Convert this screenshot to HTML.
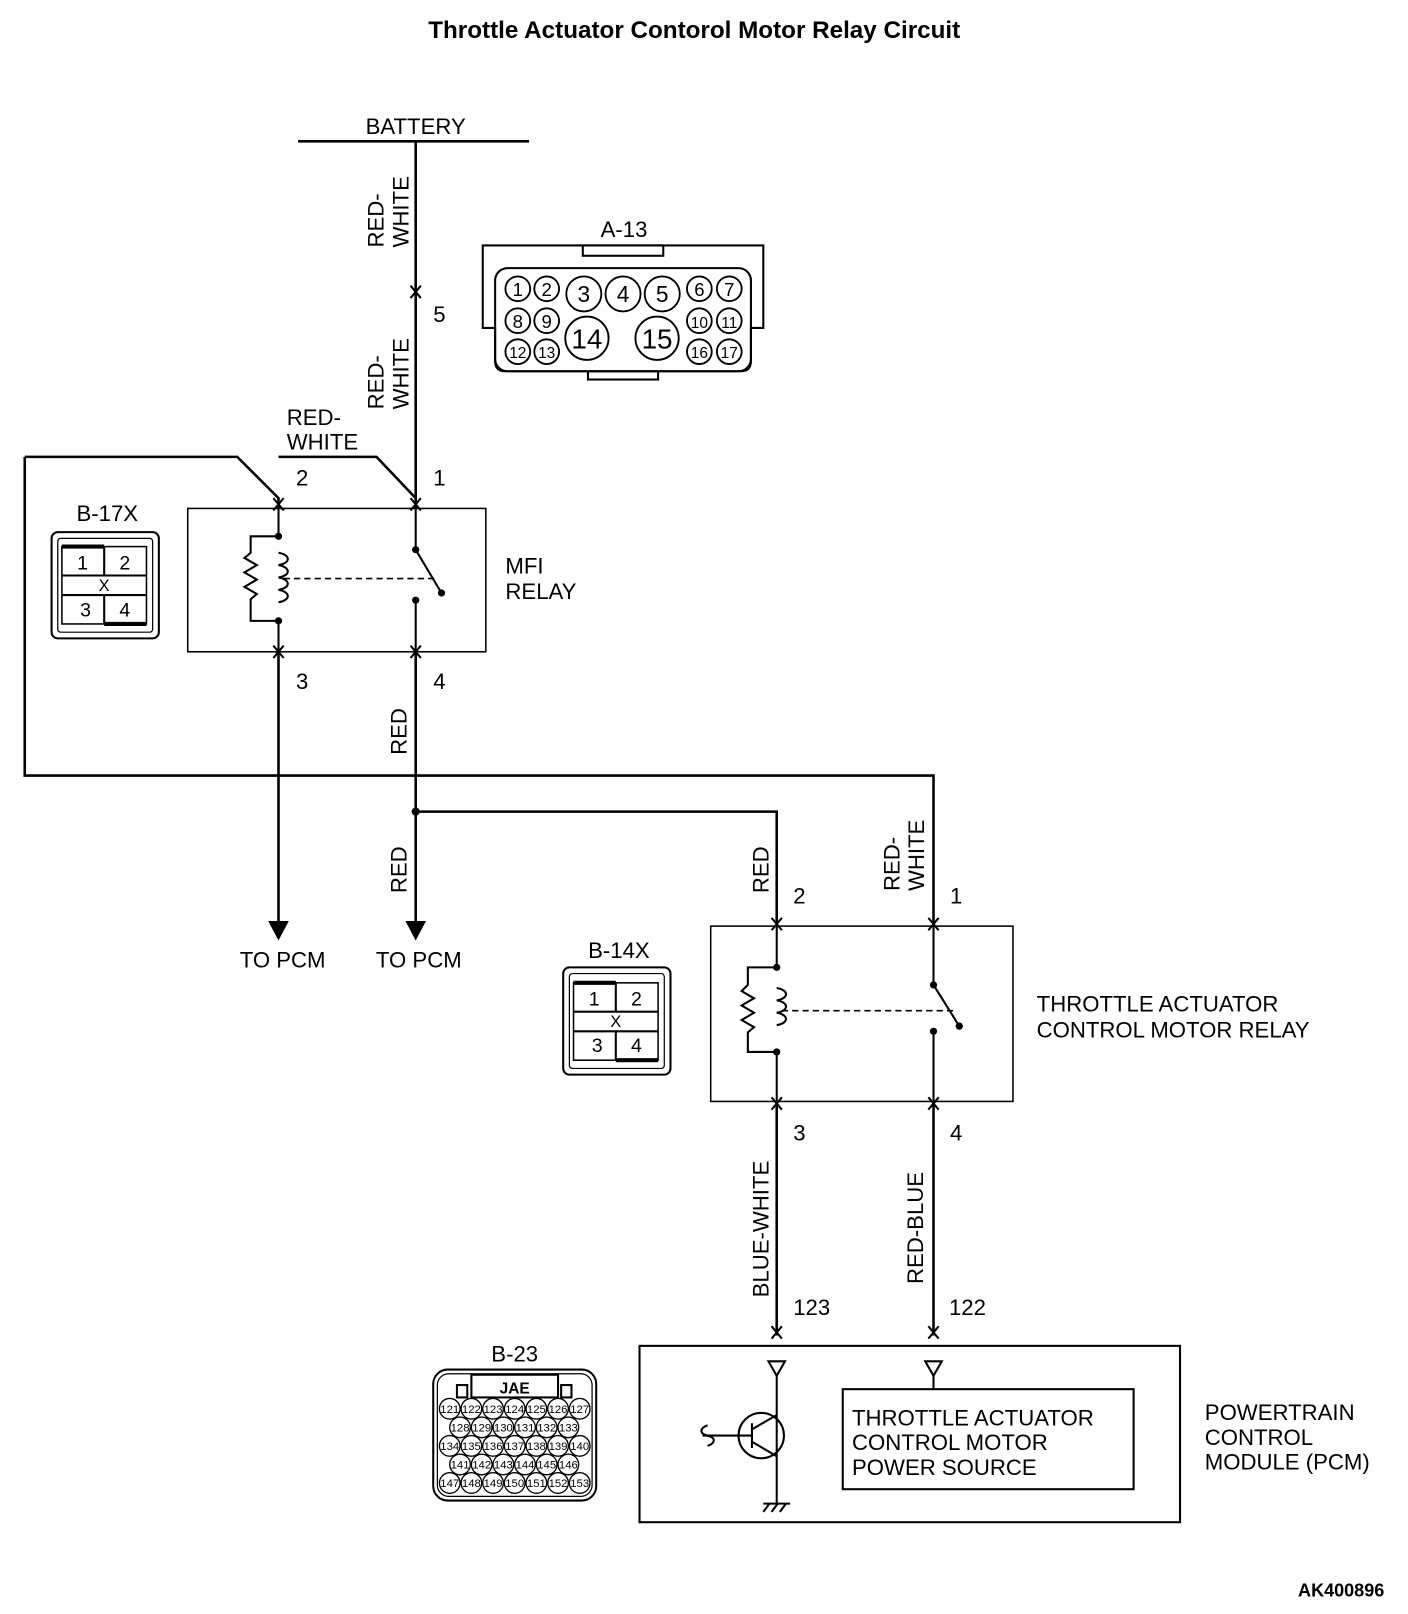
<!DOCTYPE html>
<html><head><meta charset="utf-8"><style>
html,body{margin:0;padding:0;background:#fff}
svg{display:block}
text{font-family:"Liberation Sans",sans-serif;fill:#000}
</style></head><body>
<svg width="1408" height="1614" viewBox="0 0 1365 1565" preserveAspectRatio="none" xmlns="http://www.w3.org/2000/svg">
<defs>
<g id="chev"><polyline points="-5,-6 0,0 5,-6" fill="none" stroke="#000" stroke-width="2"/><polyline points="-5,6 0,0 5,6" fill="none" stroke="#000" stroke-width="2"/></g>
</defs>
<text x="673" y="37" font-size="23.5" font-weight="bold" text-anchor="middle">Throttle Actuator Contorol Motor Relay Circuit</text>
<g stroke="#000" stroke-width="2.5" fill="none">
<line x1="289" y1="137" x2="513" y2="137"/>
<line x1="403" y1="137" x2="403" y2="493"/>
<polyline points="24,443 230,443 270,483 270,493"/>
<polyline points="270,443 365,443 403,483"/>
<polyline points="24,443 24,752 905,752 905,898"/>
<rect x="182" y="493" width="289" height="139" stroke-width="1.5"/>
<line x1="270" y1="493" x2="270" y2="520" stroke-width="2"/>
<line x1="270" y1="602" x2="270" y2="632" stroke-width="2"/>
<line x1="403" y1="493" x2="403" y2="533" stroke-width="2"/>
<line x1="403" y1="582" x2="403" y2="632" stroke-width="2"/>
<line x1="270" y1="632" x2="270" y2="895"/>
<line x1="403" y1="632" x2="403" y2="895"/>
<polyline points="403,787 753,787 753,898"/>
<rect x="689" y="898" width="293" height="170" stroke-width="1.5"/>
<line x1="753" y1="898" x2="753" y2="938" stroke-width="2"/>
<line x1="753" y1="1020" x2="753" y2="1068" stroke-width="2"/>
<line x1="905" y1="898" x2="905" y2="955" stroke-width="2"/>
<line x1="905" y1="1000" x2="905" y2="1068" stroke-width="2"/>
<line x1="753" y1="1068" x2="753" y2="1295"/>
<line x1="905" y1="1068" x2="905" y2="1295"/>
<rect x="620" y="1305" width="524" height="171" stroke-width="2"/>
<rect x="817" y="1347" width="282" height="97" stroke-width="2"/>
</g>
<circle cx="403" cy="787" r="4"/>
<polygon points="260,893 280,893 270,912"/>
<polygon points="393,893 413,893 403,912"/>
<use href="#chev" x="403" y="283"/>
<use href="#chev" x="270" y="489"/><use href="#chev" x="403" y="489"/>
<use href="#chev" x="270" y="632"/><use href="#chev" x="403" y="632"/>
<use href="#chev" x="753" y="896"/><use href="#chev" x="905" y="896"/>
<use href="#chev" x="753" y="1070"/><use href="#chev" x="905" y="1070"/>
<use href="#chev" x="753" y="1292"/><use href="#chev" x="905" y="1292"/>
<g stroke="#000" stroke-width="2" fill="none">
<polyline points="270,520 243,520 243,536 237,541 249,548 237,555 249,562 237,569 249,576 243,581 243,602 270,602"/>
<path d="M270,536 c12,2 12,10 0,12 c12,2 12,10 0,12 c12,2 12,10 0,12 c12,2 12,10 0,12"/>
<line x1="403" y1="533" x2="428" y2="575"/>
<line x1="275" y1="561" x2="425" y2="561" stroke-dasharray="6,4" stroke-width="1.5"/>
<polyline points="753,938 725,938 725,955 719,961 731,968 719,975 731,982 719,989 731,996 725,1001 725,1020 753,1020"/>
<path d="M753,958 c12,2 12,10 0,12 c12,2 12,10 0,12 c12,2 12,10 0,12"/>
<line x1="905" y1="955" x2="930" y2="995"/>
<line x1="758" y1="980" x2="925" y2="980" stroke-dasharray="6,4" stroke-width="1.5"/>
</g>
<g><circle cx="270" cy="520" r="3.5"/><circle cx="270" cy="602" r="3.5"/><circle cx="403" cy="533" r="3.5"/><circle cx="403" cy="582" r="3.5"/><circle cx="428" cy="575" r="3.5"/>
<circle cx="753" cy="938" r="3.5"/><circle cx="753" cy="1020" r="3.5"/><circle cx="905" cy="955" r="3.5"/><circle cx="905" cy="1000" r="3.5"/><circle cx="930" cy="995" r="3.5"/></g>
<g stroke="#000" stroke-width="2" fill="none">
<polygon points="745,1320 761,1320 753,1334"/><line x1="753" y1="1334" x2="753" y2="1458"/>
<polygon points="897,1320 913,1320 905,1334"/><line x1="905" y1="1334" x2="905" y2="1347"/>
<circle cx="738" cy="1392" r="22"/>
<line x1="681" y1="1392" x2="729" y2="1392"/><line x1="729" y1="1380" x2="729" y2="1404"/>
<line x1="729" y1="1386" x2="753" y2="1372"/><line x1="729" y1="1398" x2="753" y2="1412"/>
<path d="M686,1382 c-8,3 -8,8 0,10 c8,2 8,7 0,10"/>
<line x1="740" y1="1458" x2="766" y2="1458"/>
<line x1="740" y1="1466" x2="746" y2="1458"/><line x1="748" y1="1466" x2="754" y2="1458"/><line x1="756" y1="1466" x2="762" y2="1458"/>
</g>
<g font-size="21.5">
<text x="403" y="130" text-anchor="middle">BATTERY</text>
<text x="420" y="312">5</text>
<text x="287" y="471">2</text><text x="420" y="471">1</text>
<text x="287" y="668">3</text><text x="420" y="668">4</text>
<text x="278" y="412">RED-</text><text x="278" y="436">WHITE</text>
<text x="490" y="556">MFI</text><text x="490" y="581">RELAY</text>
<text x="274" y="938" text-anchor="middle">TO PCM</text>
<text x="406" y="938" text-anchor="middle">TO PCM</text>
<text x="769" y="876">2</text><text x="921" y="876">1</text>
<text x="769" y="1106">3</text><text x="921" y="1106">4</text>
<text x="769" y="1275">123</text><text x="920" y="1275">122</text>
<text x="1005" y="981">THROTTLE ACTUATOR</text>
<text x="1005" y="1006">CONTROL MOTOR RELAY</text>
<text x="826" y="1382">THROTTLE ACTUATOR</text>
<text x="826" y="1406">CONTROL MOTOR</text>
<text x="826" y="1430">POWER SOURCE</text>
<text x="1168" y="1377">POWERTRAIN</text>
<text x="1168" y="1401">CONTROL</text>
<text x="1168" y="1425">MODULE (PCM)</text>
<text x="605" y="230" text-anchor="middle">A-13</text>
<text x="104" y="505" text-anchor="middle">B-17X</text>
<text x="600" y="929" text-anchor="middle">B-14X</text>
<text x="499" y="1320" text-anchor="middle">B-23</text>
<text transform="translate(372,240) rotate(-90)">RED-</text>
<text transform="translate(396,240) rotate(-90)">WHITE</text>
<text transform="translate(372,397) rotate(-90)">RED-</text>
<text transform="translate(396,397) rotate(-90)">WHITE</text>
<text transform="translate(394,732) rotate(-90)">RED</text>
<text transform="translate(394,866) rotate(-90)">RED</text>
<text transform="translate(745,866) rotate(-90)">RED</text>
<text transform="translate(872,864) rotate(-90)">RED-</text>
<text transform="translate(896,864) rotate(-90)">WHITE</text>
<text transform="translate(745,1258) rotate(-90)">BLUE-WHITE</text>
<text transform="translate(895,1245) rotate(-90)">RED-BLUE</text>
</g>
<text x="1342" y="1548" font-size="17.5" font-weight="bold" text-anchor="end">AK400896</text>
<g stroke="#000" stroke-width="2" fill="none">
<path d="M468,238 H740 V318 H728 V350 Q728,360 718,360 H490 Q480,360 480,350 V318 H468 Z"/>
<rect x="565" y="238" width="78" height="10"/>
<rect x="570" y="360" width="68" height="8"/>
<rect x="480" y="260" width="248" height="100" rx="12"/>
</g>
<g stroke="#000" stroke-width="1.8" fill="#fff">
<circle cx="502" cy="280" r="12"/><circle cx="530" cy="280" r="12"/><circle cx="566" cy="285" r="17"/><circle cx="604" cy="285" r="17"/><circle cx="642" cy="285" r="17"/><circle cx="678" cy="280" r="12"/><circle cx="707" cy="280" r="12"/>
<circle cx="502" cy="311" r="12"/><circle cx="530" cy="311" r="12"/><circle cx="678" cy="311" r="12"/><circle cx="707" cy="311" r="12"/>
<circle cx="502" cy="341" r="12"/><circle cx="530" cy="341" r="12"/><circle cx="678" cy="341" r="12"/><circle cx="707" cy="341" r="12"/>
<circle cx="569" cy="328" r="21"/><circle cx="637" cy="328" r="21"/>
</g>
<g font-size="18" text-anchor="middle">
<text x="502" y="287">1</text><text x="530" y="287">2</text><text x="566" y="293" font-size="22">3</text><text x="604" y="293" font-size="22">4</text><text x="642" y="293" font-size="22">5</text><text x="678" y="287">6</text><text x="707" y="287">7</text>
<text x="502" y="318">8</text><text x="530" y="318">9</text><text x="678" y="318" font-size="15">10</text><text x="707" y="318" font-size="15">11</text>
<text x="502" y="347" font-size="15">12</text><text x="530" y="347" font-size="15">13</text><text x="678" y="347" font-size="15">16</text><text x="707" y="347" font-size="15">17</text>
<text x="569" y="338" font-size="27">14</text><text x="637" y="338" font-size="27">15</text>
</g>
<g stroke="#000" fill="none" stroke-width="2">
<rect x="50" y="516" width="104" height="103" rx="6"/>
<rect x="56" y="522" width="92" height="91" rx="3" stroke-width="1.2"/>
<rect x="60" y="530" width="82" height="75" stroke-width="1.5"/>
<line x1="60" y1="558" x2="142" y2="558"/><line x1="60" y1="577" x2="142" y2="577"/>
<line x1="101" y1="530" x2="101" y2="558"/><line x1="101" y1="577" x2="101" y2="605"/>
<line x1="60" y1="530" x2="101" y2="530" stroke-width="4"/><line x1="101" y1="605" x2="142" y2="605" stroke-width="4"/>
<rect x="546" y="938" width="104" height="104" rx="6"/>
<rect x="552" y="944" width="92" height="92" rx="3" stroke-width="1.2"/>
<rect x="556" y="953" width="82" height="75" stroke-width="1.5"/>
<line x1="556" y1="981" x2="638" y2="981"/><line x1="556" y1="1000" x2="638" y2="1000"/>
<line x1="597" y1="953" x2="597" y2="981"/><line x1="597" y1="1000" x2="597" y2="1028"/>
<line x1="556" y1="953" x2="597" y2="953" stroke-width="4"/><line x1="597" y1="1028" x2="638" y2="1028" stroke-width="4"/>
</g>
<g font-size="19" text-anchor="middle">
<text x="80" y="552">1</text><text x="121" y="552">2</text><text x="101" y="573" font-size="16">X</text><text x="83" y="598">3</text><text x="121" y="598">4</text>
<text x="576" y="975">1</text><text x="617" y="975">2</text><text x="597" y="996" font-size="16">X</text><text x="579" y="1020">3</text><text x="617" y="1020">4</text>
</g>
<g stroke="#000" fill="none" stroke-width="2">
<rect x="420" y="1328" width="158" height="127" rx="14"/>
<rect x="424" y="1332" width="150" height="119" rx="11" stroke-width="1.2"/>
<rect x="457" y="1333" width="84" height="22"/>
<rect x="443" y="1343" width="10" height="12"/>
<rect x="544" y="1343" width="10" height="12"/>
</g>
<text x="499" y="1351" font-size="15" font-weight="bold" text-anchor="middle">JAE</text>
<g stroke="#000" stroke-width="1.3" fill="#fff">
<g id="r7"><circle cx="436" cy="1366" r="10"/><circle cx="457" cy="1366" r="10"/><circle cx="478" cy="1366" r="10"/><circle cx="499" cy="1366" r="10"/><circle cx="520" cy="1366" r="10"/><circle cx="541" cy="1366" r="10"/><circle cx="562" cy="1366" r="10"/></g>
<g id="r6"><circle cx="446" cy="1384" r="10"/><circle cx="467" cy="1384" r="10"/><circle cx="488" cy="1384" r="10"/><circle cx="509" cy="1384" r="10"/><circle cx="530" cy="1384" r="10"/><circle cx="551" cy="1384" r="10"/></g>
<use href="#r7" y="36"/><use href="#r6" y="36"/><use href="#r7" y="72"/>
</g>
<g font-size="11" text-anchor="middle">
<text x="436" y="1370">121</text><text x="457" y="1370">122</text><text x="478" y="1370">123</text><text x="499" y="1370">124</text><text x="520" y="1370">125</text><text x="541" y="1370">126</text><text x="562" y="1370">127</text>
<text x="446" y="1388">128</text><text x="467" y="1388">129</text><text x="488" y="1388">130</text><text x="509" y="1388">131</text><text x="530" y="1388">132</text><text x="551" y="1388">133</text>
<text x="436" y="1406">134</text><text x="457" y="1406">135</text><text x="478" y="1406">136</text><text x="499" y="1406">137</text><text x="520" y="1406">138</text><text x="541" y="1406">139</text><text x="562" y="1406">140</text>
<text x="446" y="1424">141</text><text x="467" y="1424">142</text><text x="488" y="1424">143</text><text x="509" y="1424">144</text><text x="530" y="1424">145</text><text x="551" y="1424">146</text>
<text x="436" y="1442">147</text><text x="457" y="1442">148</text><text x="478" y="1442">149</text><text x="499" y="1442">150</text><text x="520" y="1442">151</text><text x="541" y="1442">152</text><text x="562" y="1442">153</text>
</g>
</svg>
</body></html>
